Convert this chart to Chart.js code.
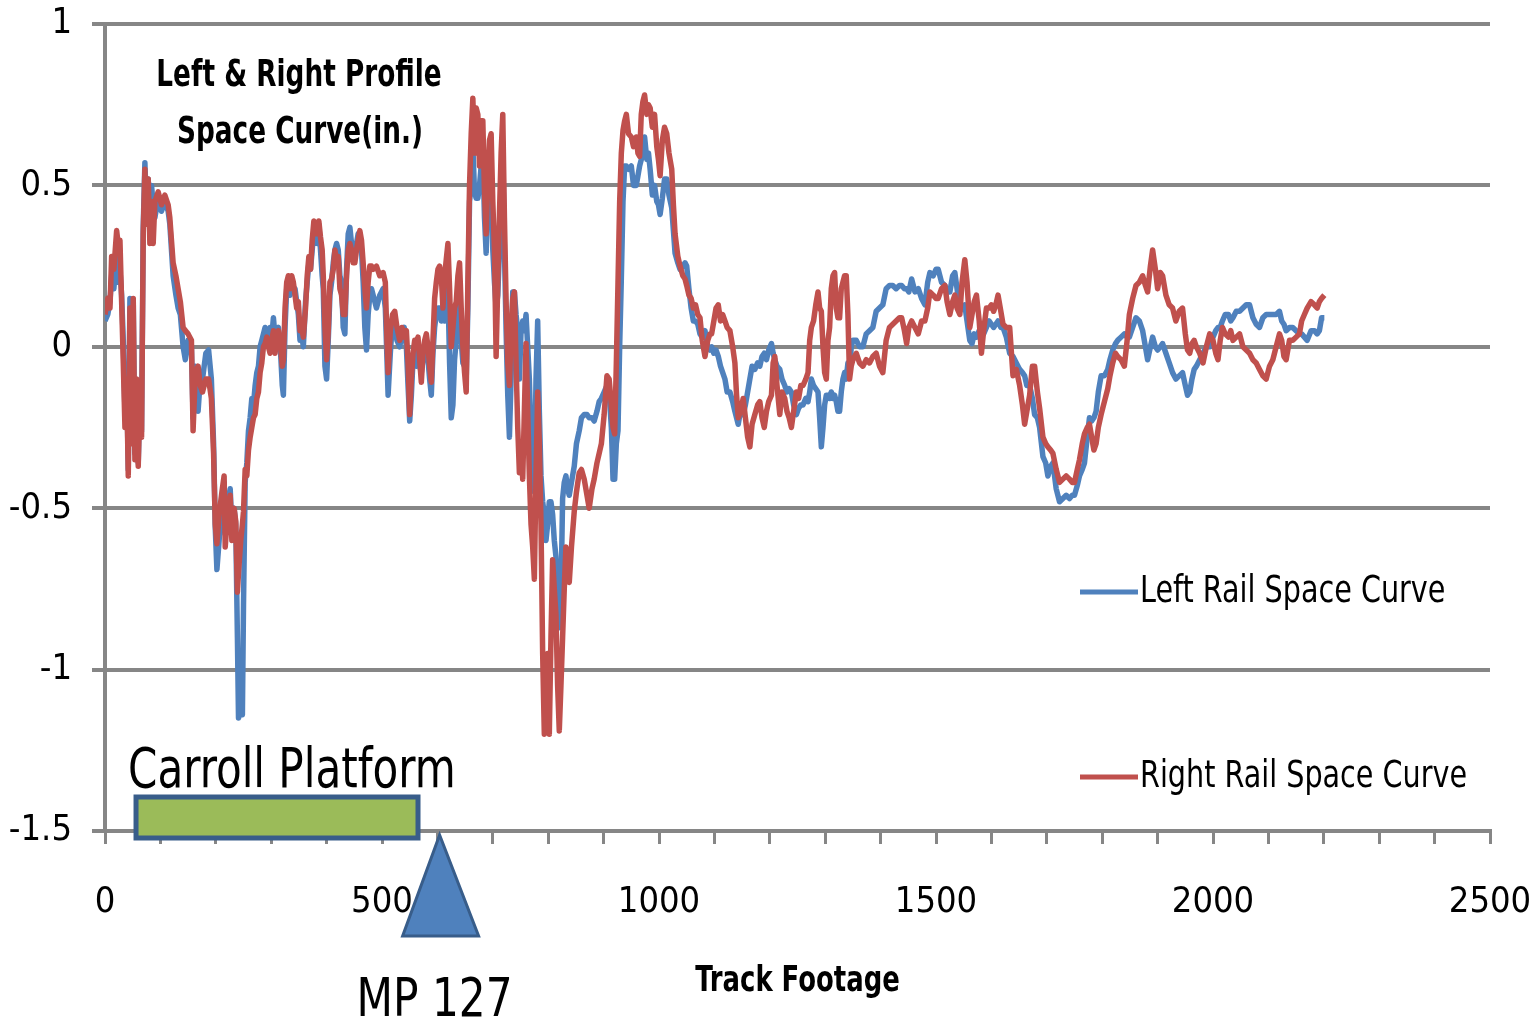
<!DOCTYPE html>
<html>
<head>
<meta charset="utf-8">
<title>Left & Right Profile Space Curve</title>
<script src="https://cdn.jsdelivr.net/npm/chart.js@4.4.1/dist/chart.umd.min.js"></script>
<style>
  html, body { margin: 0; padding: 0; background: #fff; }
  canvas { display: block; }
</style>
</head>
<body>
<canvas id="spaceCurveChart" width="1536" height="1024"></canvas>
<script>
// track footage (ft) and space curve values (in.)
const footage = [
  0,5,9,12,16,21,25,27,30,33,36,39,42,45,48,51,54,57,60,63,66,69,72,75,78,81,84,87,90,96,
  102,108,114,117,123,128,132,136,141,145,150,156,159,163,168,172,176,182,187,192,196,199,202,206,211,215,217,222,226,229,
  233,236,239,241,245,248,250,253,256,259,262,265,268,271,274,277,280,283,286,289,292,295,298,301,304,307,310,313,317,320,
  322,325,328,331,334,337,340,343,346,349,352,355,358,362,365,368,371,374,377,380,383,386,389,392,394,397,400,403,406,409,
  412,415,418,421,424,427,430,433,436,439,442,445,448,451,454,457,460,463,466,469,472,475,478,481,484,490,496,502,506,509,
  511,515,519,523,527,532,536,540,544,547,550,553,556,559,562,565,568,571,574,577,580,583,586,589,592,595,598,601,604,607,
  610,613,616,619,622,625,628,631,634,637,640,643,646,649,652,655,658,661,664,667,670,673,676,679,682,685,688,691,694,697,
  700,703,706,709,712,715,718,721,724,727,730,733,736,739,742,745,748,751,754,757,760,763,766,769,772,775,778,781,784,787,
  790,793,796,799,802,805,808,811,814,817,820,823,826,829,832,835,838,842,847,851,856,860,865,870,874,879,883,888,892,896,
  901,906,910,914,917,920,923,926,929,932,935,938,941,945,950,954,959,962,965,968,971,974,978,981,984,988,992,996,999,1002,
  1006,1010,1014,1018,1023,1026,1029,1034,1038,1043,1047,1050,1054,1058,1062,1066,1070,1074,1078,1083,1088,1092,1095,1099,1103,1107,1111,1115,1119,1123,
  1128,1133,1137,1140,1143,1147,1152,1156,1160,1164,1168,1173,1178,1182,1186,1190,1194,1198,1203,1206,1209,1213,1218,1222,1227,1231,1235,1239,1243,1248,
  1252,1256,1260,1265,1269,1272,1275,1279,1283,1287,1290,1293,1296,1299,1302,1305,1308,1311,1314,1317,1320,1323,1326,1329,1332,1335,1338,1341,1344,1347,
  1350,1356,1362,1368,1374,1380,1386,1392,1398,1404,1410,1416,1422,1428,1434,1438,1443,1447,1451,1456,1462,1468,1474,1480,1485,1489,1495,1500,1504,1510,
  1516,1520,1525,1530,1534,1538,1543,1547,1552,1556,1561,1565,1569,1573,1578,1582,1586,1591,1596,1600,1604,1608,1612,1617,1621,1627,1633,1639,1645,1651,
  1656,1660,1664,1669,1674,1678,1683,1687,1693,1698,1702,1707,1711,1717,1723,1729,1735,1741,1746,1750,1755,1759,1764,1768,1773,1777,1781,1785,1789,1793,
  1798,1804,1810,1814,1819,1824,1828,1834,1840,1845,1849,1855,1861,1867,1873,1878,1882,1887,1891,1896,1900,1905,1909,1915,1921,1927,1933,1939,1945,1950,
  1954,1958,1962,1966,1970,1976,1982,1988,1994,2000,2005,2009,2013,2017,2022,2028,2032,2036,2042,2048,2054,2060,2066,2072,2078,2084,2090,2096,2102,2108,
  2114,2120,2124,2128,2132,2138,2144,2150,2156,2160,2165,2170,2177,2183,2188,2192,2196,2201
]

const leftRail = [
  0.08,0.10,0.14,0.22,0.18,0.30,0.20,0.24,0.16,0.02,-0.20,-0.08,-0.38,0.15,-0.28,0.14,-0.33,-0.12,-0.36,-0.16,-0.26,0.37,0.57,0.42,0.52,0.36,0.50,0.44,0.40,0.46,
  0.42,0.45,0.42,0.38,0.22,0.16,0.12,0.10,0.00,-0.04,0.02,0.00,-0.22,-0.06,-0.20,-0.10,-0.10,-0.02,-0.01,-0.10,-0.30,-0.56,-0.69,-0.60,-0.47,-0.42,-0.58,-0.48,-0.44,-0.56,
  -0.50,-0.55,-0.90,-1.15,-1.12,-1.14,-0.80,-0.42,-0.36,-0.26,-0.22,-0.16,-0.18,-0.12,-0.08,-0.06,0.00,0.02,0.04,0.06,0.02,0.04,0.06,0.03,0.09,0.03,0.05,0.06,-0.02,-0.12,
  -0.15,0.06,0.18,0.20,0.16,0.20,0.18,0.18,0.14,0.10,0.02,0.04,0.00,0.14,0.20,0.26,0.24,0.30,0.36,0.37,0.32,0.38,0.30,0.22,0.18,-0.06,-0.10,0.02,0.16,0.20,
  0.26,0.30,0.32,0.30,0.22,0.20,0.06,0.04,0.24,0.35,0.37,0.32,0.28,0.30,0.32,0.35,0.34,0.30,0.20,0.06,-0.01,0.10,0.16,0.18,0.16,0.12,0.16,0.18,0.12,-0.04,
  -0.15,-0.02,0.08,0.06,0.02,0.00,0.04,0.06,0.00,-0.12,-0.23,-0.15,-0.04,-0.02,-0.06,0.01,-0.06,-0.08,-0.04,0.00,0.02,-0.04,-0.10,-0.15,-0.02,0.06,0.10,0.12,0.12,0.08,
  0.10,0.08,0.14,0.18,-0.05,-0.22,-0.18,-0.04,0.02,0.10,0.14,0.02,-0.05,-0.06,-0.10,0.12,0.45,0.50,0.62,0.48,0.46,0.46,0.50,0.56,0.60,0.40,0.29,0.48,0.56,0.50,
  0.30,0.20,0.12,0.16,0.30,0.50,0.60,0.30,0.05,-0.15,-0.28,-0.10,0.17,0.17,0.10,0.05,-0.10,0.05,0.08,0.05,0.10,0.00,-0.10,-0.28,-0.40,-0.45,-0.10,0.08,-0.20,-0.40,
  -0.48,-0.52,-0.60,-0.55,-0.48,-0.48,-0.52,-0.60,-0.65,-0.75,-0.87,-0.78,-0.47,-0.42,-0.40,-0.44,-0.46,-0.42,-0.37,-0.30,-0.26,-0.22,-0.21,-0.21,-0.22,-0.22,-0.23,-0.20,-0.17,-0.16,
  -0.14,-0.12,-0.14,-0.25,-0.41,-0.41,-0.30,-0.26,0.00,0.21,0.45,0.56,0.56,0.55,0.56,0.50,0.50,0.53,0.56,0.58,0.62,0.65,0.58,0.60,0.55,0.47,0.50,0.45,0.44,0.41,
  0.46,0.52,0.52,0.47,0.43,0.36,0.29,0.26,0.24,0.25,0.26,0.25,0.18,0.12,0.08,0.08,0.07,0.04,0.03,0.05,0.00,-0.01,0.00,-0.02,-0.01,-0.03,-0.06,-0.08,-0.10,-0.14,
  -0.14,-0.17,-0.20,-0.22,-0.24,-0.20,-0.21,-0.18,-0.14,-0.10,-0.06,-0.07,-0.05,-0.06,-0.03,-0.02,-0.04,-0.01,0.01,-0.02,-0.04,-0.06,-0.07,-0.10,-0.12,-0.14,-0.13,-0.14,-0.18,-0.21,
  -0.19,-0.18,-0.18,-0.16,-0.17,-0.14,-0.10,-0.12,-0.13,-0.14,-0.22,-0.31,-0.25,-0.18,-0.15,-0.15,-0.16,-0.14,-0.16,-0.15,-0.17,-0.20,-0.20,-0.14,-0.10,-0.08,-0.10,-0.05,-0.08,0.00,
  0.02,0.02,0.00,0.00,0.04,0.05,0.06,0.11,0.12,0.13,0.18,0.19,0.19,0.18,0.19,0.19,0.18,0.18,0.17,0.21,0.17,0.18,0.15,0.13,0.20,0.23,0.22,0.24,0.24,0.20,
  0.19,0.17,0.17,0.22,0.23,0.18,0.11,0.12,0.13,0.08,0.02,0.01,0.04,0.03,0.05,0.06,0.04,0.06,0.08,0.07,0.06,0.07,0.08,0.06,0.06,0.03,-0.02,-0.03,-0.05,-0.07,
  -0.08,-0.09,-0.12,-0.12,-0.16,-0.21,-0.22,-0.25,-0.34,-0.36,-0.40,-0.37,-0.36,-0.44,-0.48,-0.47,-0.46,-0.47,-0.46,-0.46,-0.43,-0.40,-0.38,-0.36,-0.28,-0.22,-0.23,-0.22,-0.20,-0.14,
  -0.09,-0.09,-0.07,-0.04,-0.01,0.01,0.02,0.03,0.04,0.03,0.03,0.06,0.09,0.08,0.05,0.00,-0.04,0.00,0.03,0.00,-0.01,0.00,0.01,-0.02,-0.05,-0.08,-0.10,-0.09,-0.08,-0.12,
  -0.15,-0.14,-0.10,-0.07,-0.06,-0.04,-0.02,0.00,0.00,0.03,0.05,0.06,0.06,0.08,0.10,0.10,0.08,0.09,0.11,0.11,0.12,0.13,0.13,0.09,0.07,0.06,0.09,0.10,0.10,0.10,
  0.10,0.11,0.08,0.07,0.05,0.06,0.06,0.05,0.04,0.04,0.03,0.02,0.05,0.05,0.04,0.05,0.09,0.09
]

const rightRail = [
  0.10,0.15,0.12,0.28,0.24,0.36,0.30,0.33,0.14,-0.05,-0.25,-0.10,-0.40,0.12,-0.30,0.15,-0.35,-0.10,-0.37,-0.15,-0.28,0.35,0.55,0.38,0.52,0.32,0.45,0.32,0.45,0.48,
  0.44,0.47,0.44,0.40,0.26,0.22,0.18,0.14,0.06,0.05,0.04,0.02,-0.26,-0.08,-0.06,-0.12,-0.14,-0.10,-0.10,-0.16,-0.33,-0.55,-0.61,-0.52,-0.45,-0.40,-0.62,-0.50,-0.46,-0.60,
  -0.50,-0.54,-0.76,-0.70,-0.60,-0.55,-0.51,-0.38,-0.40,-0.32,-0.28,-0.25,-0.22,-0.21,-0.16,-0.14,-0.08,-0.05,0.00,0.01,0.03,0.00,-0.02,0.02,0.05,-0.02,0.04,0.05,0.00,-0.06,
  -0.04,0.12,0.20,0.22,0.18,0.22,0.20,0.16,0.12,0.14,0.05,0.06,0.03,0.12,0.22,0.28,0.24,0.33,0.39,0.38,0.35,0.39,0.34,0.30,0.22,0.06,-0.04,0.05,0.20,0.21,
  0.24,0.30,0.26,0.28,0.18,0.16,0.10,0.10,0.22,0.30,0.32,0.30,0.26,0.26,0.30,0.33,0.36,0.33,0.26,0.18,0.12,0.20,0.25,0.25,0.24,0.25,0.22,0.23,0.20,0.02,
  -0.08,0.05,0.10,0.11,0.06,0.02,0.06,0.03,0.05,-0.05,-0.21,-0.10,-0.02,0.02,0.01,0.03,-0.04,-0.11,-0.02,0.02,0.04,0.00,-0.06,-0.11,0.02,0.15,0.20,0.24,0.25,0.22,
  0.12,0.22,0.27,0.32,0.18,0.00,0.06,0.12,0.14,0.22,0.26,0.12,0.00,-0.08,-0.14,0.20,0.50,0.66,0.77,0.60,0.74,0.72,0.56,0.70,0.70,0.48,0.35,0.52,0.64,0.66,
  0.45,0.30,-0.03,0.20,0.41,0.60,0.72,0.40,0.14,-0.05,-0.12,0.05,0.15,0.17,-0.05,-0.25,-0.39,-0.30,-0.41,-0.20,0.01,-0.20,-0.40,-0.55,-0.62,-0.72,-0.40,-0.14,-0.30,-0.55,
  -0.95,-1.20,-1.15,-0.95,-1.20,-0.90,-0.66,-0.75,-0.83,-1.05,-1.19,-1.05,-0.90,-0.75,-0.62,-0.68,-0.73,-0.62,-0.51,-0.45,-0.39,-0.38,-0.41,-0.46,-0.50,-0.44,-0.41,-0.36,-0.33,-0.30,
  -0.21,-0.09,-0.10,-0.18,-0.25,-0.27,-0.05,0.20,0.45,0.60,0.67,0.70,0.72,0.66,0.65,0.62,0.65,0.60,0.59,0.72,0.76,0.78,0.72,0.75,0.74,0.68,0.72,0.62,0.58,0.53,
  0.64,0.68,0.66,0.60,0.55,0.44,0.35,0.28,0.25,0.22,0.21,0.19,0.16,0.15,0.12,0.13,0.10,0.09,0.02,-0.03,0.02,0.04,0.04,0.08,0.12,0.13,0.08,0.10,0.08,0.06,
  0.05,0.00,-0.05,-0.15,-0.22,-0.20,-0.16,-0.22,-0.28,-0.31,-0.24,-0.21,-0.18,-0.17,-0.22,-0.25,-0.20,-0.17,-0.15,-0.05,-0.03,-0.12,-0.21,-0.14,-0.16,-0.20,-0.22,-0.25,-0.20,-0.14,
  -0.16,-0.12,-0.12,-0.10,-0.08,0.02,0.06,0.08,0.13,0.17,0.12,0.11,0.00,-0.08,-0.10,0.02,0.06,0.18,0.22,0.23,0.12,0.09,0.09,0.18,0.20,0.22,0.22,0.10,-0.10,-0.06,
  -0.04,-0.02,-0.05,-0.06,-0.04,-0.05,-0.03,-0.02,-0.06,-0.08,0.02,0.06,0.07,0.08,0.09,0.09,0.05,0.01,0.06,0.08,0.06,0.04,0.08,0.08,0.12,0.17,0.16,0.15,0.15,0.18,
  0.19,0.14,0.10,0.14,0.16,0.12,0.10,0.20,0.27,0.20,0.06,0.10,0.14,0.16,0.08,-0.02,0.05,0.12,0.12,0.13,0.11,0.13,0.16,0.11,0.07,0.06,0.06,-0.09,-0.07,-0.12,
  -0.18,-0.24,-0.20,-0.15,-0.06,-0.06,-0.14,-0.19,-0.28,-0.30,-0.31,-0.32,-0.33,-0.38,-0.42,-0.41,-0.40,-0.41,-0.42,-0.42,-0.38,-0.35,-0.30,-0.27,-0.25,-0.24,-0.28,-0.32,-0.30,-0.25,
  -0.21,-0.17,-0.13,-0.09,-0.05,-0.02,-0.03,-0.04,-0.06,0.02,0.10,0.15,0.19,0.20,0.22,0.19,0.17,0.25,0.30,0.24,0.18,0.23,0.22,0.16,0.13,0.12,0.08,0.11,0.12,0.04,
  -0.01,-0.02,0.01,0.02,0.00,-0.02,-0.05,0.00,0.04,0.02,-0.02,-0.04,0.02,0.06,0.04,0.03,0.05,0.02,0.03,0.04,0.00,-0.01,-0.02,-0.04,-0.05,-0.07,-0.09,-0.10,-0.06,-0.04,
  0.00,0.04,0.02,-0.03,-0.04,0.02,0.02,0.03,0.04,0.08,0.10,0.12,0.14,0.13,0.12,0.14,0.15,0.16
]

const seriesNames = ['Left Rail Space Curve', 'Right Rail Space Curve']
const seriesColors = ['#4F81BD', '#C0504D']
const yTickLabels = ['-1.5', '-1', '-0.5', '0', '0.5', '1']
const xTickLabels = ['0', '500', '1000', '1500', '2000', '2500']
const chartTitle = ['Left & Right Profile', 'Space Curve(in.)']
const xTitle = 'Track Footage'

// Carroll Platform extent and milepost marker, in feet
const platformLabel = 'Carroll Platform'
const platformStart = 56
const platformEnd = 565
const mileMarkerLabel = 'MP 127'
const mileMarkerAt = 604

const fontFamily = '"DejaVu Sans Condensed", "DejaVu Sans", sans-serif'
const gridGray = '#868686'

const toPoints = vals => footage.map((x, i) => ({ x, y: vals[i] }))

// text squeezed sideways to get the narrow look of the original font
function drawText(ctx, text, x, y, font, squeeze, align) {
  ctx.save()
  ctx.translate(x, y)
  ctx.scale(squeeze, 1)
  ctx.font = font
  ctx.textAlign = align
  ctx.fillText(text, 0, 0)
  ctx.restore()
}

// in-plot title, legend, axis title and the platform/milepost markers
const overlayPlugin = {
  id: 'overlay',
  afterDraw(chart) {
    const ctx = chart.ctx
    const xs = chart.scales.x
    const area = chart.chartArea
    ctx.save()
    ctx.fillStyle = '#000'
    ctx.textBaseline = 'middle'
    drawText(ctx, chartTitle[0], 299, 76, 'bold 38px ' + fontFamily, 0.77, 'center')
    drawText(ctx, chartTitle[1], 300, 133, 'bold 38px ' + fontFamily, 0.77, 'center')
    drawText(ctx, xTitle, (area.left + area.right) / 2, 982, 'bold 36px ' + fontFamily, 0.8, 'center')

    // legend
    const legendY = [592, 777]
    seriesNames.forEach((name, i) => {
      ctx.strokeStyle = seriesColors[i]
      ctx.lineWidth = 5
      ctx.beginPath()
      ctx.moveTo(1080, legendY[i])
      ctx.lineTo(1138, legendY[i])
      ctx.stroke()
      ctx.fillStyle = '#000'
      drawText(ctx, name, 1140, legendY[i], '37px ' + fontFamily, 0.86, 'left')
    })

    // platform bar
    const px0 = xs.getPixelForValue(platformStart)
    const px1 = xs.getPixelForValue(platformEnd)
    ctx.fillStyle = '#9BBB59'
    ctx.strokeStyle = '#385D8A'
    ctx.lineWidth = 5
    ctx.fillRect(px0, area.bottom - 34, px1 - px0, 41)
    ctx.strokeRect(px0, area.bottom - 34, px1 - px0, 41)
    ctx.fillStyle = '#000'
    ctx.textBaseline = 'alphabetic'
    drawText(ctx, platformLabel, px0 - 8, area.bottom - 44, '56px ' + fontFamily, 0.835, 'left')

    // milepost triangle
    const mx = xs.getPixelForValue(mileMarkerAt)
    ctx.beginPath()
    ctx.moveTo(mx, area.bottom + 4)
    ctx.lineTo(mx + 39, area.bottom + 105)
    ctx.lineTo(mx - 37, area.bottom + 105)
    ctx.closePath()
    ctx.fillStyle = '#4F81BD'
    ctx.fill()
    ctx.lineWidth = 3
    ctx.strokeStyle = '#385D8A'
    ctx.stroke()
    ctx.fillStyle = '#000'
    drawText(ctx, mileMarkerLabel, mx - 5, area.bottom + 185, '54px ' + fontFamily, 0.87, 'center')
    ctx.restore()
  }
}

new Chart('spaceCurveChart', {
  type: 'line',
  data: {
    datasets: [
      {
        label: seriesNames[0],
        data: toPoints(leftRail),
        borderColor: seriesColors[0],
        borderWidth: 5.5,
        pointRadius: 0,
        borderJoinStyle: 'round',
        order: 2
      },
      {
        label: seriesNames[1],
        data: toPoints(rightRail),
        borderColor: seriesColors[1],
        borderWidth: 5.5,
        pointRadius: 0,
        borderJoinStyle: 'round',
        order: 1
      }
    ]
  },
  options: {
    responsive: false,
    animation: false,
    layout: { padding: { top: 24, right: 46, left: 0, bottom: 0 } },
    plugins: {
      legend: { display: false },
      tooltip: { enabled: false }
    },
    scales: {
      x: {
        type: 'linear',
        min: 0,
        max: 2500,
        afterFit: scale => {
          scale.height = 193
          scale.paddingLeft = 0
          scale.paddingRight = 0
        },
        ticks: {
          stepSize: 100,
          maxTicksLimit: 100,
          autoSkip: false,
          maxRotation: 0,
          color: '#000',
          padding: 37,
          font: { family: fontFamily, size: 36 },
          callback: v => v % 500 === 0 ? xTickLabels[v / 500] : ''
        },
        grid: { drawOnChartArea: false, drawTicks: true, tickLength: 13, color: gridGray, lineWidth: 3 },
        border: { color: gridGray, width: 4 }
      },
      y: {
        min: -1.5,
        max: 1,
        afterFit: scale => {
          scale.width = 105
          scale.paddingTop = 0
          scale.paddingBottom = 0
        },
        ticks: {
          stepSize: 0.5,
          color: '#000',
          padding: 20,
          font: { family: fontFamily, size: 36 },
          callback: v => yTickLabels[Math.round((v + 1.5) * 2)]
        },
        grid: { color: gridGray, lineWidth: 4, tickLength: 13, drawTicks: true },
        border: { color: gridGray, width: 4 }
      }
    }
  },
  plugins: [overlayPlugin]
})
</script>
</body>
</html>
